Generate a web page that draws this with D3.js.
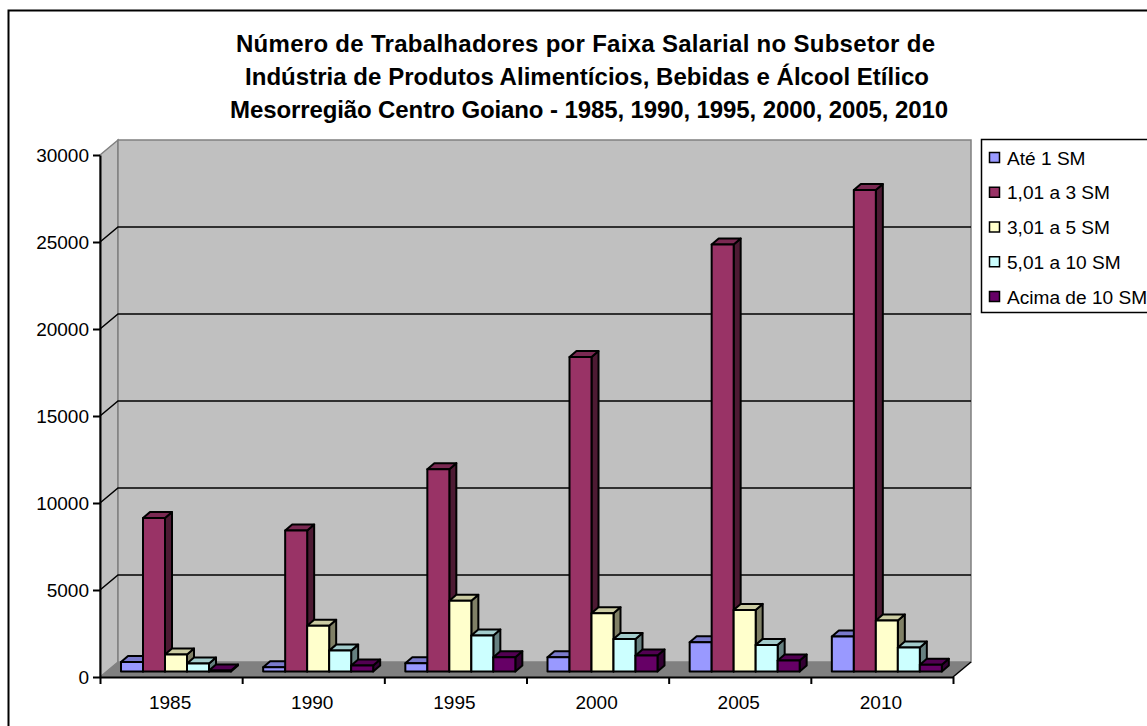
<!DOCTYPE html>
<html>
<head>
<meta charset="utf-8">
<script src="https://cdn.jsdelivr.net/npm/d3@7"></script>
<style>
  html, body { margin: 0; padding: 0; background: #fff; overflow: hidden; }
  svg { display: block; }
  text { font-family: "Liberation Sans", Arial, sans-serif; fill: #000; }
</style>
</head>
<body>
<svg width="1147" height="726"></svg>
<script>
const titleLines = [
  'Número de Trabalhadores por Faixa Salarial no Subsetor de',
  'Indústria de Produtos Alimentícios, Bebidas e Álcool Etílico',
  'Mesorregião Centro Goiano - 1985, 1990, 1995, 2000, 2005, 2010'
]
const years = ['1985', '1990', '1995', '2000', '2005', '2010']
const series = ['Até 1 SM', '1,01 a 3 SM', '3,01 a 5 SM', '5,01 a 10 SM', 'Acima de 10 SM']
const colors = ['#9999ff', '#993366', '#ffffcc', '#ccffff', '#660066']
const yTicks = [0, 5000, 10000, 15000, 20000, 25000, 30000]

const ate1 = [540, 250, 480, 820, 1680, 2010]
const de1a3 = [8820, 8100, 11630, 18070, 24540, 27670]
const de3a5 = [980, 2630, 4060, 3350, 3540, 2930]
const de5a10 = [460, 1200, 2070, 1870, 1530, 1380]
const acima10 = [60, 340, 820, 920, 630, 385]
const values = [ate1, de1a3, de3a5, de5a10, acima10]

const svg = d3.select('svg')

const left = 100
const right = 953
const bottom = 677
const top_ = 155
// depth of the box and of each bar
const wall = { dx: 18, dy: -15 }
const bar = { dx: 7, dy: -6 }
// bars float in the middle of the floor
const lift = { dx: 5, dy: -5.5 }

const xScale = d3.scaleBand().domain(years).range([left, right])
const xInner = d3.scaleBand().domain(series).range([16, 126])
const xEdges = d3.scaleLinear().domain([0, years.length]).range([left, right])
const yScale = d3.scaleLinear().domain([0, 30000]).range([bottom, top_])

const poly = pts => pts.map(p => p.join(',')).join(' ')
const shade = (hex, k) => {
  const c = d3.rgb(hex)
  return d3.rgb(c.r * k, c.g * k, c.b * k).formatHex()
}

// outer chart border, runs off the page right and below
svg.append('rect')
  .attr('x', 8.5).attr('y', 10.5)
  .attr('width', 1170).attr('height', 760)
  .attr('fill', '#fff')
  .attr('stroke', '#000')
  .attr('stroke-width', 2)

// title
svg.append('g').selectAll('text')
  .data(titleLines)
  .enter().append('text')
  .attr('x', (d, i) => [585.5, 587, 589][i])
  .attr('y', (d, i) => [52, 85, 118][i])
  .attr('text-anchor', 'middle')
  .attr('font-size', 24)
  .attr('font-weight', 'bold')
  .attr('textLength', (d, i) => [699, 684, 718][i])
  .text(d => d)

// walls and floor
const box = svg.append('g')
box.append('polygon')
  .attr('points', poly([[left, top_], [left + wall.dx, top_ + wall.dy], [left + wall.dx, bottom + wall.dy], [left, bottom]]))
  .attr('fill', '#c0c0c0').attr('stroke', '#808080').attr('stroke-width', 1.5)
box.append('rect')
  .attr('x', left + wall.dx).attr('y', top_ + wall.dy)
  .attr('width', right - left).attr('height', bottom - top_)
  .attr('fill', '#c0c0c0').attr('stroke', '#808080').attr('stroke-width', 1.5)
box.append('polygon')
  .attr('points', poly([[left, bottom], [left + wall.dx, bottom + wall.dy], [right + wall.dx, bottom + wall.dy], [right, bottom]]))
  .attr('fill', '#808080')
box.append('line')
  .attr('x1', right).attr('y1', bottom)
  .attr('x2', right + wall.dx).attr('y2', bottom + wall.dy)
  .attr('stroke', '#000').attr('stroke-width', 1.5)

// gridlines, except the top and the floor
box.selectAll('polyline')
  .data(yTicks.slice(1, -1))
  .enter().append('polyline')
  .attr('points', d => poly([[left, yScale(d)], [left + wall.dx, yScale(d) + wall.dy], [right + wall.dx, yScale(d) + wall.dy]]))
  .attr('fill', 'none')
  .attr('stroke', '#000')
  .attr('stroke-width', 1.5)

// axes
const yAxis = d3.axisLeft(yScale).tickValues(yTicks).tickSize(7).tickSizeOuter(0).tickPadding(4).tickFormat(d3.format('d'))
svg.append('g').attr('transform', `translate(${left}, 0)`).call(yAxis)

const xTickAxis = d3.axisBottom(xEdges).ticks(years.length).tickSize(7).tickSizeOuter(0).tickFormat('')
svg.append('g').attr('transform', `translate(0, ${bottom})`).call(xTickAxis)

const xAxis = d3.axisBottom(xScale).tickSize(0).tickPadding(19)
const gx = svg.append('g').attr('transform', `translate(-1, ${bottom})`).call(xAxis)
gx.select('.domain').remove()

svg.selectAll('.tick text').attr('font-size', 19).attr('font-family', '"Liberation Sans", Arial, sans-serif')
svg.selectAll('.domain, .tick line').attr('stroke', '#000').attr('stroke-width', 2)

// bars, one series after the other so the next front covers the last side
const cells = []
years.forEach((year, i) => {
  series.forEach((name, s) => {
    cells.push({ year, name, s, value: values[s][i] })
  })
})

const bars = svg.append('g').selectAll('g')
  .data(cells)
  .enter().append('g')
  .attr('stroke', '#000')
  .attr('stroke-width', 2)
  .attr('stroke-linejoin', 'round')

const w = xInner.bandwidth()
const x0 = d => xScale(d.year) + xInner(d.name) + lift.dx
const yTop = d => yScale(d.value) + lift.dy
const yBase = yScale(0) + lift.dy

bars.append('polygon')
  .attr('points', d => poly([[x0(d) + w, yTop(d)], [x0(d) + w + bar.dx, yTop(d) + bar.dy], [x0(d) + w + bar.dx, yBase + bar.dy], [x0(d) + w, yBase]]))
  .attr('fill', d => shade(colors[d.s], 0.5))

bars.append('polygon')
  .attr('points', d => poly([[x0(d), yTop(d)], [x0(d) + bar.dx, yTop(d) + bar.dy], [x0(d) + w + bar.dx, yTop(d) + bar.dy], [x0(d) + w, yTop(d)]]))
  .attr('fill', d => shade(colors[d.s], 0.8))

bars.append('rect')
  .attr('x', x0)
  .attr('y', yTop)
  .attr('width', w)
  .attr('height', d => yBase - yTop(d))
  .attr('fill', d => colors[d.s])

// legend, its box is cut by the page edge
svg.append('rect')
  .attr('x', 981.5).attr('y', 139.5)
  .attr('width', 200).attr('height', 173)
  .attr('fill', '#fff')
  .attr('stroke', '#000')
  .attr('stroke-width', 1.5)

const legendY = d3.scalePoint().domain(series).range([158, 297])
const legend = svg.append('g').selectAll('g')
  .data(series)
  .enter().append('g')
  .attr('transform', d => `translate(989, ${legendY(d)})`)

legend.append('rect')
  .attr('x', 0.5).attr('y', -5.5)
  .attr('width', 10).attr('height', 10)
  .attr('fill', (d, i) => colors[i])
  .attr('stroke', '#000')
  .attr('stroke-width', 1.5)

legend.append('text')
  .attr('x', 18)
  .attr('y', 6.5)
  .attr('font-size', 19.1)
  .text(d => d)
</script>
</body>
</html>
